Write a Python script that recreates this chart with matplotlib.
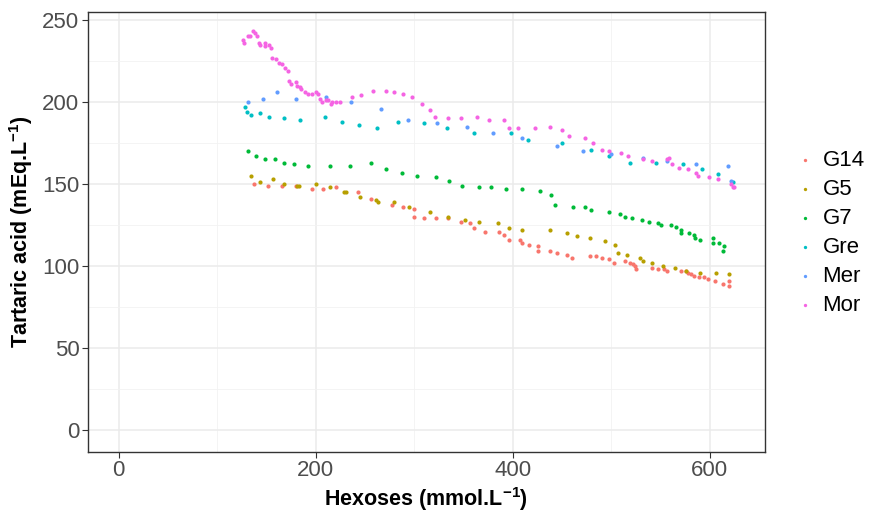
import matplotlib.pyplot as plt
from matplotlib.ticker import MultipleLocator

# hexoses (x) and tartaric acid (y) for each strain
g14_x = [137, 152, 166, 180, 196, 207, 221, 243, 256, 277, 289, 300, 300, 310, 322, 334, 348, 357, 361,
         372, 386, 391, 396, 407, 409, 417, 426, 426, 438, 445, 455, 460, 479, 485, 491, 498, 503, 514,
         519, 522, 524, 525, 542, 548, 554, 557, 571, 576, 578, 581, 584, 589, 594, 598, 605, 614, 620, 620]
g14_y = [150, 149, 149, 149, 147, 147, 148, 145, 141, 137, 136, 135, 130, 129, 129, 129, 127, 126, 123,
         121, 121, 119, 116, 116, 114, 113, 112, 109, 109, 108, 107, 105, 106, 106, 105, 104, 102, 103,
         102, 101, 100, 98, 99, 98, 98, 97, 97, 97, 96, 95, 94, 93, 93, 92, 91, 89, 91, 88]

g5_x = [134, 143, 157, 168, 181, 183, 200, 214, 229, 231, 245, 261, 263, 279, 295, 316, 334, 352, 366,
        385, 396, 410, 438, 455, 465, 479, 494, 504, 507, 516, 529, 532, 542, 553, 565, 576, 590, 607, 620]
g5_y = [155, 151, 153, 150, 149, 149, 150, 148, 145, 145, 142, 140, 139, 139, 136, 133, 130, 128, 127,
        126, 123, 122, 122, 120, 118, 117, 115, 113, 108, 107, 105, 103, 102, 100, 99, 97, 96, 96, 95]

g7_x = [131, 139, 148, 159, 168, 178, 192, 215, 235, 256, 271, 288, 303, 322, 335, 349, 366, 378, 393,
        409, 428, 439, 443, 461, 473, 480, 498, 509, 514, 521, 531, 538, 548, 551, 561, 566, 571, 571,
        579, 584, 585, 590, 603, 603, 610, 615, 614]
g7_y = [170, 167, 165, 165, 163, 162, 161, 161, 161, 163, 159, 157, 155, 154, 152, 149, 148, 148, 147,
        147, 146, 143, 137, 136, 136, 134, 133, 132, 130, 129, 128, 127, 126, 125, 125, 124, 122, 120,
        120, 119, 117, 116, 117, 114, 114, 112, 109]

gre_x = [128, 130, 134, 143, 153, 168, 184, 209, 227, 244, 262, 284, 310, 333, 361, 398, 416, 450, 480,
         498, 519, 546, 573, 592, 609, 624]
gre_y = [197, 194, 192, 193, 191, 190, 189, 191, 188, 186, 184, 188, 187, 184, 181, 181, 177, 175, 171,
         167, 163, 163, 162, 159, 156, 151]

mer_x = [131, 146, 161, 180, 210, 236, 266, 294, 323, 354, 380, 410, 445, 471, 500, 532, 557, 586, 619, 622]
mer_y = [200, 202, 206, 202, 203, 200, 196, 189, 187, 185, 181, 178, 173, 170, 168, 166, 164, 162, 161, 152]

mor_x = [126, 127, 131, 133, 136, 138, 140, 142, 143, 148, 148, 153, 155, 156, 160, 163, 166, 169, 172,
         173, 175, 180, 181, 184, 185, 189, 192, 196, 200, 202, 204, 206, 210, 212, 216, 217, 221, 225,
         237, 246, 258, 271, 280, 289, 298, 308, 316, 321, 334, 348, 364, 376, 391, 396, 405, 423, 438,
         450, 457, 473, 482, 491, 498, 510, 517, 532, 542, 557, 559, 562, 569, 578, 586, 588, 599, 609,
         622, 624, 625]
mor_y = [238, 236, 240, 240, 243, 242, 240, 236, 235, 236, 234, 235, 233, 227, 226, 224, 223, 221, 219,
         213, 211, 212, 210, 209, 208, 206, 205, 205, 206, 205, 202, 200, 201, 201, 199, 200, 200, 200,
         203, 204, 207, 207, 206, 205, 203, 199, 195, 191, 190, 190, 191, 189, 189, 184, 184, 184, 185,
         183, 179, 178, 175, 171, 170, 169, 167, 165, 164, 165, 166, 162, 160, 159, 157, 155, 154, 153,
         150, 148, 148]

series = [
    ('G14', g14_x, g14_y, '#F8766D'),
    ('G5', g5_x, g5_y, '#B79F00'),
    ('G7', g7_x, g7_y, '#00BA38'),
    ('Gre', gre_x, gre_y, '#00BFC4'),
    ('Mer', mer_x, mer_y, '#619CFF'),
    ('Mor', mor_x, mor_y, '#F564E3'),
]

plt.rcParams['font.family'] = ['Liberation Sans', 'DejaVu Sans']
plt.rcParams['mathtext.fontset'] = 'custom'
plt.rcParams['mathtext.bf'] = 'Liberation Sans:bold'
fig = plt.figure(figsize=(8.69, 5.13), dpi=100)
ax = fig.add_axes([0.101, 0.119, 0.779, 0.858])

for name, xs, ys, col in series:
    ax.scatter(xs, ys, s=9, color=col, label=name, linewidths=0, zorder=3)

ax.set_xlim(-31.5, 656)
ax.set_ylim(-13.4, 255)
ax.xaxis.set_major_locator(MultipleLocator(200))
ax.xaxis.set_minor_locator(MultipleLocator(100))
ax.yaxis.set_major_locator(MultipleLocator(50))
ax.yaxis.set_minor_locator(MultipleLocator(25))
ax.grid(which='major', color='#EBEBEB', lw=1.1)
ax.grid(which='minor', color='#F2F2F2', lw=0.6)
ax.set_axisbelow(True)
for s in ax.spines.values():
    s.set_color('#333333')
    s.set_linewidth(1.0)
ax.tick_params(which='major', length=4, color='#333333', labelsize=16, labelcolor='#4D4D4D', pad=2)
ax.tick_params(which='minor', length=0)

ax.set_xlabel(r'Hexoses (mmol.L$^{\mathbf{-1}}$)', fontsize=15.5, fontweight='bold', labelpad=3)
ax.set_ylabel(r'Tartaric acid (mEq.L$^{\mathbf{-1}}$)', fontsize=15.5, fontweight='bold', labelpad=5)

ax.legend(loc='center left', bbox_to_anchor=(1.01, 0.497), frameon=False, fontsize=16,
          markerscale=0.8, handletextpad=0.2, labelspacing=0.36, handlelength=1.2)

fig.savefig('out.png', dpi=100)
